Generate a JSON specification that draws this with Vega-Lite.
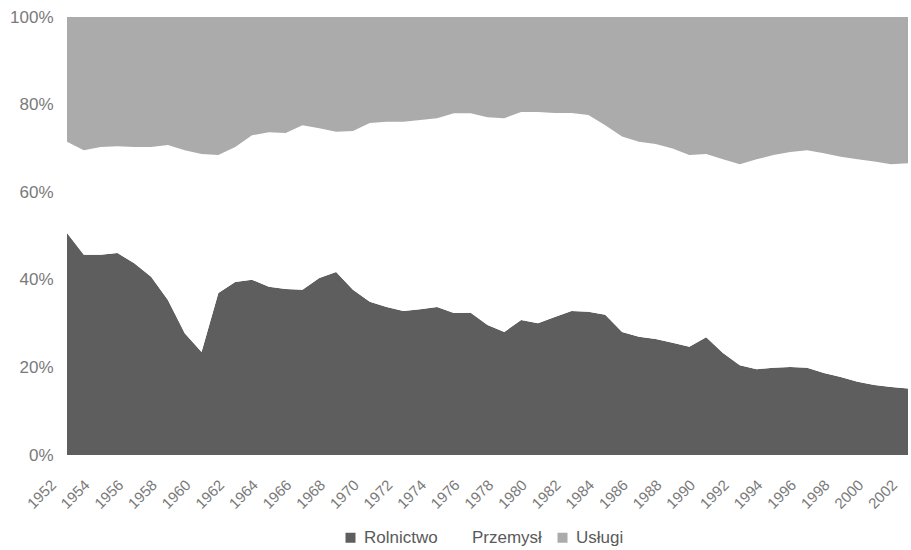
{
  "$schema": "https://vega.github.io/schema/vega-lite/v6.json",
  "width": 841,
  "height": 438,
  "autosize": {"type": "none"},
  "padding": {"left": 67, "top": 17, "right": 3, "bottom": 95},
  "background": "white",
  "config": {
    "view": {"stroke": null},
    "font": "Liberation Sans",
    "axis": {"labelFont": "Liberation Sans", "labelColor": "#7a7a7a", "labelFontSize": 17, "grid": false, "domain": false, "ticks": false},
    "legend": {"labelFont": "Liberation Sans", "labelColor": "#5a5a5a", "labelFontSize": 17}
  },
  "data": {
    "values": [
      {"year": 1952, "R": 50.7, "U": 71.5},
      {"year": 1953, "R": 45.7, "U": 69.6},
      {"year": 1954, "R": 45.7, "U": 70.3},
      {"year": 1955, "R": 46.1, "U": 70.5},
      {"year": 1956, "R": 43.8, "U": 70.3},
      {"year": 1957, "R": 40.7, "U": 70.3},
      {"year": 1958, "R": 35.4, "U": 70.8},
      {"year": 1959, "R": 27.8, "U": 69.6},
      {"year": 1960, "R": 23.5, "U": 68.7},
      {"year": 1961, "R": 37.0, "U": 68.5},
      {"year": 1962, "R": 39.5, "U": 70.3},
      {"year": 1963, "R": 40.0, "U": 73.0},
      {"year": 1964, "R": 38.4, "U": 73.7},
      {"year": 1965, "R": 37.9, "U": 73.5},
      {"year": 1966, "R": 37.7, "U": 75.3},
      {"year": 1967, "R": 40.4, "U": 74.6},
      {"year": 1968, "R": 41.8, "U": 73.8},
      {"year": 1969, "R": 37.7, "U": 74.0},
      {"year": 1970, "R": 35.0, "U": 75.8},
      {"year": 1971, "R": 33.8, "U": 76.1},
      {"year": 1972, "R": 32.9, "U": 76.1},
      {"year": 1973, "R": 33.3, "U": 76.5},
      {"year": 1974, "R": 33.8, "U": 76.9},
      {"year": 1975, "R": 32.4, "U": 78.0},
      {"year": 1976, "R": 32.5, "U": 78.0},
      {"year": 1977, "R": 29.7, "U": 77.1},
      {"year": 1978, "R": 28.1, "U": 76.9},
      {"year": 1979, "R": 30.8, "U": 78.3},
      {"year": 1980, "R": 30.1, "U": 78.3},
      {"year": 1981, "R": 31.5, "U": 78.1},
      {"year": 1982, "R": 32.9, "U": 78.1},
      {"year": 1983, "R": 32.7, "U": 77.6},
      {"year": 1984, "R": 32.0, "U": 75.3},
      {"year": 1985, "R": 28.1, "U": 72.7},
      {"year": 1986, "R": 27.0, "U": 71.5},
      {"year": 1987, "R": 26.5, "U": 71.0},
      {"year": 1988, "R": 25.6, "U": 70.0},
      {"year": 1989, "R": 24.7, "U": 68.5},
      {"year": 1990, "R": 26.9, "U": 68.7},
      {"year": 1991, "R": 23.3, "U": 67.5},
      {"year": 1992, "R": 20.5, "U": 66.4},
      {"year": 1993, "R": 19.6, "U": 67.5},
      {"year": 1994, "R": 19.9, "U": 68.5},
      {"year": 1995, "R": 20.1, "U": 69.2},
      {"year": 1996, "R": 19.9, "U": 69.6},
      {"year": 1997, "R": 18.7, "U": 68.9},
      {"year": 1998, "R": 17.8, "U": 68.1},
      {"year": 1999, "R": 16.7, "U": 67.5},
      {"year": 2000, "R": 16.0, "U": 67.0},
      {"year": 2001, "R": 15.5, "U": 66.4},
      {"year": 2002, "R": 15.2, "U": 66.6}
    ]
  },
  "transform": [
    {"calculate": "datum.U - datum.R", "as": "P"},
    {"calculate": "100 - datum.U", "as": "S"},
    {"fold": ["R", "P", "S"], "as": ["key", "value"]},
    {"calculate": "datum.key === 'R' ? 'Rolnictwo' : datum.key === 'P' ? 'Przemysł' : 'Usługi'", "as": "sektor"},
    {"calculate": "datum.key === 'R' ? 1 : datum.key === 'P' ? 2 : 3", "as": "ord"}
  ],
  "mark": {"type": "area", "interpolate": "linear"},
  "encoding": {
    "x": {
      "field": "year",
      "type": "quantitative",
      "scale": {"domain": [1952, 2002], "nice": false, "zero": false},
      "axis": {
        "title": null,
        "values": [1952,1954,1956,1958,1960,1962,1964,1966,1968,1970,1972,1974,1976,1978,1980,1982,1984,1986,1988,1990,1992,1994,1996,1998,2000,2002],
        "format": "d",
        "labelFontSize": 15,
        "labelAngle": -45,
        "labelAlign": "right",
        "labelBaseline": "middle",
        "labelPadding": 27,
        "labelOffset": -14,
        "labelOverlap": false,
        "labelFlush": false
      }
    },
    "y": {
      "field": "value",
      "type": "quantitative",
      "stack": "normalize",
      "scale": {"domain": [0, 1]},
      "axis": {"title": null, "format": ".0%", "values": [0, 0.2, 0.4, 0.6, 0.8, 1], "labelPadding": 14}
    },
    "color": {
      "field": "sektor",
      "type": "nominal",
      "scale": {"domain": ["Rolnictwo", "Przemysł", "Usługi"], "range": ["#5e5e5e", "#ffffff", "#ababab"]},
      "legend": {"title": null, "orient": "none", "legendX": 275, "legendY": 512, "direction": "horizontal", "symbolType": "square", "symbolSize": 100, "symbolStrokeWidth": 0, "columnPadding": 12, "labelOffset": 5}
    },
    "order": {"field": "ord", "type": "quantitative"}
  }
}
